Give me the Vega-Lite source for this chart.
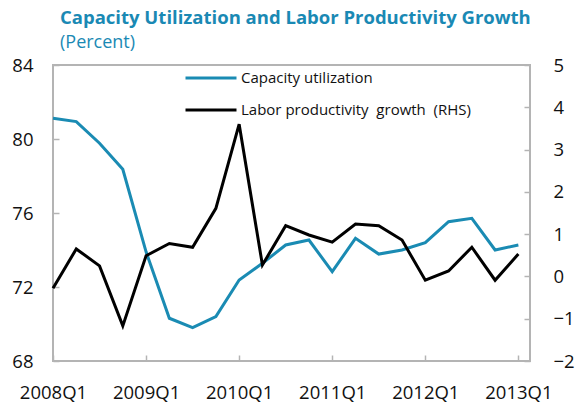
{
  "$schema": "https://vega.github.io/schema/vega-lite/v6.json",
  "width": 477,
  "height": 296,
  "autosize": {"type": "none"},
  "padding": {"left": 53, "top": 65, "right": 46, "bottom": 42},
  "background": "white",
  "title": {
    "text": "Capacity Utilization and Labor Productivity Growth",
    "subtitle": "(Percent)",
    "anchor": "start",
    "frame": "group",
    "dx": 7,
    "offset": -1,
    "font": "Open Sans",
    "fontSize": 18.5,
    "fontWeight": "bold",
    "color": "#1a89b4",
    "subtitleFont": "Open Sans",
    "subtitleFontSize": 18,
    "subtitleColor": "#1a89b4",
    "subtitlePadding": 7
  },
  "config": {
    "view": {"stroke": "#b4b4b4", "strokeWidth": 2},
    "axis": {
      "grid": false,
      "domain": false,
      "labelFont": "Open Sans",
      "labelFontSize": 18.5,
      "labelColor": "#111111",
      "tickColor": "#b4b4b4",
      "tickWidth": 1.5,
      "title": null
    },
    "legend": {
      "labelFont": "Open Sans",
      "labelFontSize": 15,
      "labelColor": "#111111",
      "labelLimit": 500
    }
  },
  "data": {
    "values": [
      {"t": 0, "q": "2008Q1", "cap": 81.12, "lab": -0.28},
      {"t": 1, "q": "2008Q2", "cap": 80.94, "lab": 0.65},
      {"t": 2, "q": "2008Q3", "cap": 79.77, "lab": 0.25},
      {"t": 3, "q": "2008Q4", "cap": 78.36, "lab": -1.17},
      {"t": 4, "q": "2009Q1", "cap": 73.9, "lab": 0.49},
      {"t": 5, "q": "2009Q2", "cap": 70.31, "lab": 0.78},
      {"t": 6, "q": "2009Q3", "cap": 69.8, "lab": 0.69},
      {"t": 7, "q": "2009Q4", "cap": 70.4, "lab": 1.61},
      {"t": 8, "q": "2010Q1", "cap": 72.38, "lab": 3.6},
      {"t": 9, "q": "2010Q2", "cap": 73.28, "lab": 0.27},
      {"t": 10, "q": "2010Q3", "cap": 74.27, "lab": 1.2},
      {"t": 11, "q": "2010Q4", "cap": 74.54, "lab": 0.98},
      {"t": 12, "q": "2011Q1", "cap": 72.83, "lab": 0.81},
      {"t": 13, "q": "2011Q2", "cap": 74.63, "lab": 1.24},
      {"t": 14, "q": "2011Q3", "cap": 73.78, "lab": 1.2},
      {"t": 15, "q": "2011Q4", "cap": 74.0, "lab": 0.86},
      {"t": 16, "q": "2012Q1", "cap": 74.4, "lab": -0.09},
      {"t": 17, "q": "2012Q2", "cap": 75.53, "lab": 0.13},
      {"t": 18, "q": "2012Q3", "cap": 75.71, "lab": 0.69},
      {"t": 19, "q": "2012Q4", "cap": 74.0, "lab": -0.09},
      {"t": 20, "q": "2013Q1", "cap": 74.27, "lab": 0.53}
    ]
  },
  "encoding": {
    "x": {
      "field": "t",
      "type": "quantitative",
      "scale": {"domain": [0, 20.5], "nice": false, "zero": false},
      "axis": {
        "values": [0, 4, 8, 12, 16, 20],
        "labelExpr": "(2008 + datum.value / 4) + 'Q1'",
        "tickSize": -6,
        "labelPadding": 28,
        "labelFlush": false
      }
    }
  },
  "layer": [
    {
      "mark": {"type": "line", "strokeWidth": 3},
      "encoding": {
        "y": {
          "field": "cap",
          "type": "quantitative",
          "scale": {"domain": [68, 84], "nice": false, "zero": false},
          "axis": {
            "orient": "left",
            "values": [68, 72, 76, 80, 84],
            "tickSize": -6,
            "labelPadding": 26
          }
        },
        "color": {
          "datum": "Capacity utilization",
          "scale": {"domain": ["Capacity utilization"], "range": ["#1a8bb3"]},
          "legend": {
            "title": null,
            "orient": "none",
            "legendX": 131,
            "legendY": -14,
            "symbolType": "stroke",
            "symbolSize": 2600,
            "symbolStrokeWidth": 3,
            "labelOffset": 3
          }
        }
      }
    },
    {
      "mark": {"type": "line", "strokeWidth": 3},
      "encoding": {
        "y": {
          "field": "lab",
          "type": "quantitative",
          "scale": {"domain": [-2, 5], "nice": false, "zero": false},
          "axis": {
            "orient": "right",
            "values": [-2, -1, 0, 1, 2, 3, 4, 5],
            "tickSize": -6,
            "labelPadding": 29
          }
        },
        "stroke": {
          "datum": "Labor productivity\u00a0 growth\u00a0 (RHS)",
          "scale": {"domain": ["Labor productivity\u00a0 growth\u00a0 (RHS)"], "range": ["#000000"]},
          "legend": {
            "title": null,
            "orient": "none",
            "legendX": 131,
            "legendY": 18,
            "symbolType": "stroke",
            "symbolSize": 2600,
            "symbolStrokeWidth": 3,
            "labelOffset": 3
          }
        }
      }
    }
  ],
  "resolve": {"scale": {"y": "independent"}}
}
